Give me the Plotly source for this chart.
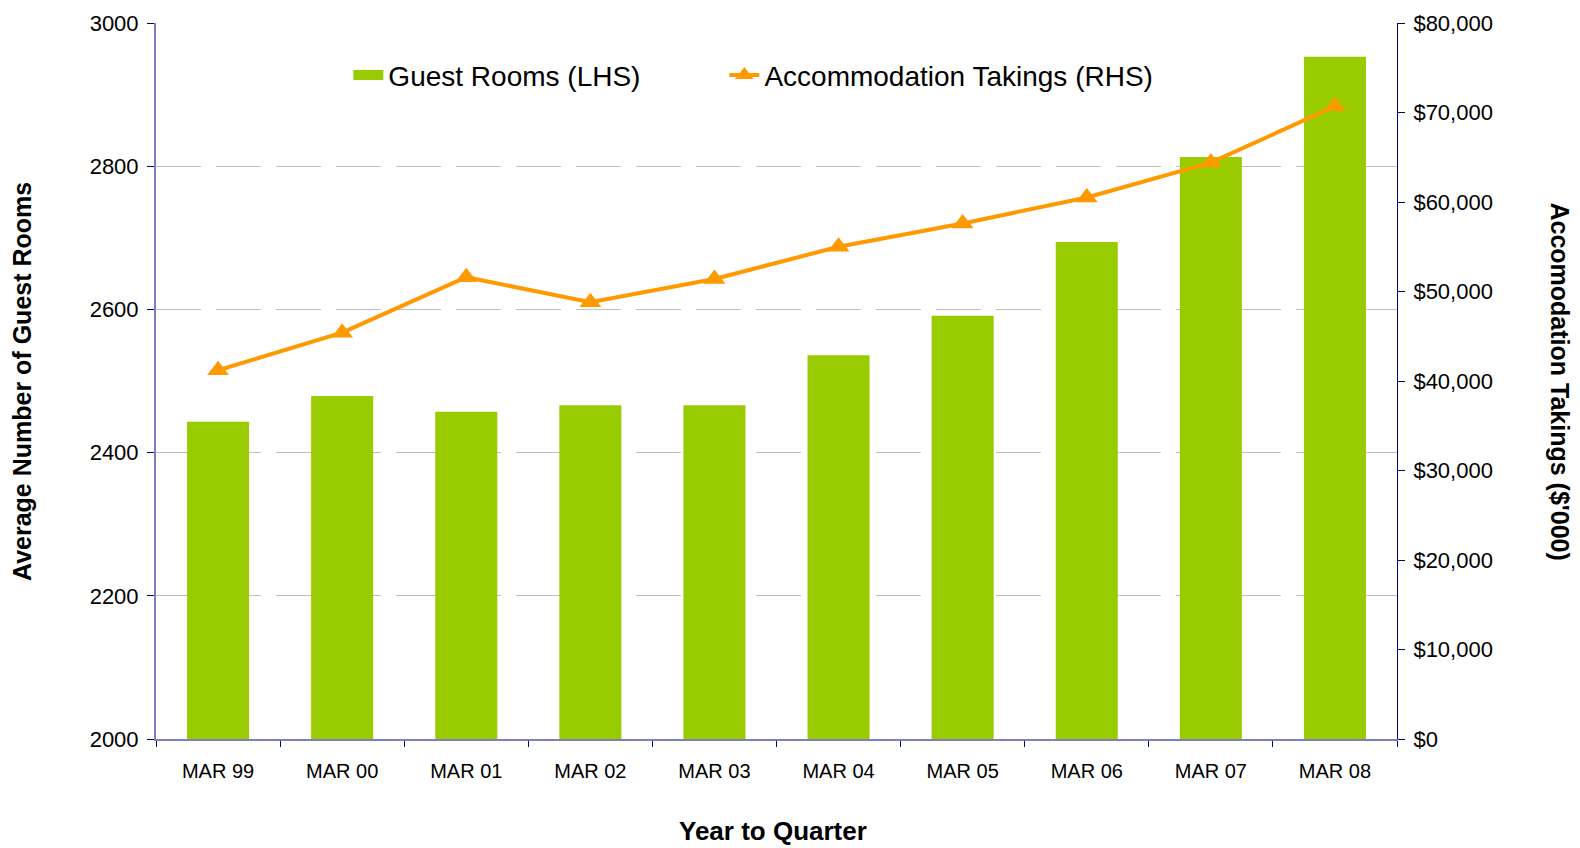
import plotly.graph_objects as go

categories = ["MAR 99", "MAR 00", "MAR 01", "MAR 02", "MAR 03", "MAR 04", "MAR 05", "MAR 06", "MAR 07", "MAR 08"]
guest_rooms = [2443, 2479, 2457, 2466, 2466, 2536, 2591, 2694, 2813, 2953]
takings = [41200, 45400, 51600, 48800, 51400, 55000, 57600, 60500, 64400, 70700]

FONT = "Liberation Sans, Arial, sans-serif"
AXIS_LIGHT = "#7f7fc0"
AXIS_DARK = "#000080"
GREEN = "#99CC00"
ORANGE = "#FF9900"

fig = go.Figure()
fig.add_trace(go.Bar(
    x=categories, y=guest_rooms, name="Guest Rooms (LHS)",
    marker=dict(color=GREEN, line=dict(width=0)), width=0.5,
    yaxis="y", showlegend=False, legendgroup="rooms",
))
# legend entry for bars (wide swatch like the reference)
fig.add_trace(go.Scatter(
    x=[None], y=[None], name="Guest Rooms (LHS)", mode="lines",
    line=dict(color=GREEN, width=18), legend="legend", legendgroup="rooms",
    hoverinfo="skip",
))
fig.add_trace(go.Scatter(
    x=categories, y=takings, name="Accommodation Takings (RHS)",
    mode="lines+markers",
    line=dict(color=ORANGE, width=4),
    marker=dict(symbol="triangle-up", size=19, color=ORANGE),
    yaxis="y2", legend="legend2",
))

legend_common = dict(
    orientation="h", yanchor="middle", y=0.927, xanchor="left",
    font=dict(size=28, family=FONT, color="black"), bgcolor="rgba(0,0,0,0)",
)

fig.update_layout(
    width=1580, height=848,
    margin=dict(l=156, r=183, t=23, b=109),
    plot_bgcolor="white", paper_bgcolor="white",
    font=dict(family=FONT, color="black"),
    showlegend=True,
    legend=dict(x=0.155, **legend_common),
    legend2=dict(x=0.458, **legend_common),
    bargap=0.5,
    xaxis=dict(
        type="category", range=[-0.5, len(categories) - 0.5],
        showline=True, linecolor=AXIS_LIGHT, linewidth=2,
        ticks="outside", tickson="boundaries", ticklen=6, tickcolor=AXIS_DARK,
        tickfont=dict(size=20, family=FONT), showgrid=False,
        ticklabelstandoff=13,
    ),
    yaxis=dict(
        range=[2000, 3000], dtick=200, tickformat="d",
        showline=True, linecolor=AXIS_LIGHT, linewidth=2,
        ticks="outside", ticklen=7, tickcolor=AXIS_DARK,
        tickfont=dict(size=22, family=FONT), ticklabelstandoff=4,
        showgrid=True, gridcolor="#c0c0c0", gridwidth=1, griddash="45px,15px",
        zeroline=False,
    ),
    yaxis2=dict(
        range=[0, 80000], dtick=10000, tickformat=",d", tickprefix="$",
        overlaying="y", side="right", anchor="x",
        showline=True, linecolor=AXIS_DARK, linewidth=1,
        ticks="outside", ticklen=7, tickcolor=AXIS_DARK,
        tickfont=dict(size=22, family=FONT), ticklabelstandoff=4,
        showgrid=False, zeroline=False,
    ),
    annotations=[
        dict(text="<b>Average Number of Guest Rooms</b>", xref="paper", yref="paper",
             x=-0.108, y=0.5, textangle=-90, showarrow=False,
             font=dict(size=25, family=FONT), xanchor="center", yanchor="middle"),
        dict(text="<b>Accomodation Takings ($'000)</b>", xref="paper", yref="paper",
             x=1.131, y=0.5, textangle=90, showarrow=False,
             font=dict(size=25, family=FONT), xanchor="center", yanchor="middle"),
        dict(text="<b>Year to Quarter</b>", xref="paper", yref="paper",
             x=0.497, y=-0.128, showarrow=False,
             font=dict(size=26, family=FONT), xanchor="center", yanchor="middle"),
    ],
)

fig.write_html("out.html", config={"displayModeBar": False},
               post_script="document.body.style.margin='0px';")
